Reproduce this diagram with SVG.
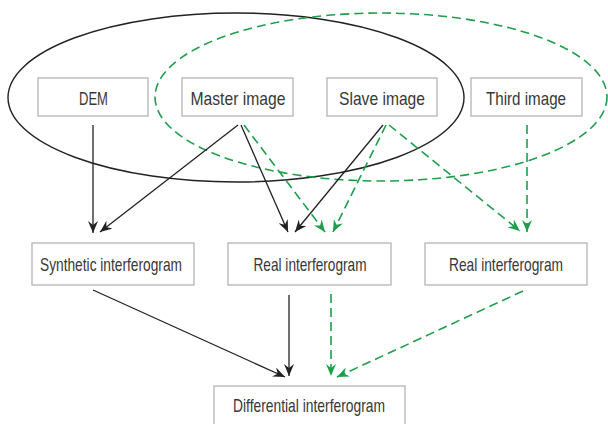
<svg xmlns="http://www.w3.org/2000/svg" width="608" height="424" viewBox="0 0 608 424">
  <style>
    .box { fill: #ffffff; stroke: #b4b4b4; stroke-width: 1.3; }
    .lbl { font-family: "Liberation Sans", Arial, sans-serif; font-size: 19px; fill: #383838; text-anchor: middle; }
    .blk { fill: none; stroke: #222222; stroke-width: 1.3; }
    .grn { fill: none; stroke: #1f9e4c; stroke-width: 1.6; stroke-dasharray: 9 5; }
    .ring-b { fill: none; stroke: #222222; stroke-width: 1.4; }
    .ring-g { fill: none; stroke: #1f9e4c; stroke-width: 1.6; stroke-dasharray: 9 5; }
  </style>
  <defs>
    <marker id="ah-b" viewBox="0 0 12 10" refX="12" refY="5" markerWidth="12" markerHeight="10" markerUnits="userSpaceOnUse" orient="auto">
      <path d="M0,0 L12,5 L0,10 L4,5 Z" fill="#222222"/>
    </marker>
    <marker id="ah-g" viewBox="0 0 12 10" refX="12" refY="5" markerWidth="12" markerHeight="10" markerUnits="userSpaceOnUse" orient="auto">
      <path d="M0,0 L12,5 L0,10 L4,5 Z" fill="#1f9e4c"/>
    </marker>
  </defs>

  <!-- image groupings -->
  <g id="groupings">
    <ellipse class="ring-b" cx="236" cy="97.5" rx="228" ry="84.5"/>
    <ellipse class="ring-g" cx="381" cy="97" rx="226" ry="84"/>
  </g>

  <!-- connectors -->
  <g id="connectors">
    <line class="blk" x1="93" y1="125" x2="93" y2="233" marker-end="url(#ah-b)"/>
    <line class="blk" x1="238" y1="125" x2="100" y2="232" marker-end="url(#ah-b)"/>
    <line class="blk" x1="241" y1="125" x2="288" y2="232" marker-end="url(#ah-b)"/>
    <line class="grn" x1="244" y1="125" x2="325" y2="232" marker-end="url(#ah-g)"/>
    <line class="blk" x1="383" y1="125" x2="295" y2="232" marker-end="url(#ah-b)"/>
    <line class="grn" x1="386" y1="125" x2="333" y2="232" marker-end="url(#ah-g)"/>
    <line class="grn" x1="389" y1="125" x2="520" y2="231" marker-end="url(#ah-g)"/>
    <line class="grn" x1="527" y1="125" x2="527" y2="232" marker-end="url(#ah-g)"/>
    <line class="blk" x1="93" y1="290" x2="285" y2="377" marker-end="url(#ah-b)"/>
    <line class="blk" x1="289" y1="295" x2="289" y2="376" marker-end="url(#ah-b)"/>
    <line class="grn" x1="331" y1="294" x2="331" y2="376" marker-end="url(#ah-g)"/>
    <line class="grn" x1="523" y1="291" x2="337" y2="377" marker-end="url(#ah-g)"/>
  </g>

  <g id="dem">
    <rect class="box" x="38" y="78" width="110" height="38"/>
    <text class="lbl" x="93.5" y="105" textLength="29" lengthAdjust="spacingAndGlyphs">DEM</text>
  </g>
  <g id="master">
    <rect class="box" x="182" y="78" width="111" height="38"/>
    <text class="lbl" x="238" y="105" textLength="95" lengthAdjust="spacingAndGlyphs">Master image</text>
  </g>
  <g id="slave">
    <rect class="box" x="327" y="78" width="110" height="38"/>
    <text class="lbl" x="382" y="105" textLength="86" lengthAdjust="spacingAndGlyphs">Slave image</text>
  </g>
  <g id="third">
    <rect class="box" x="471" y="78" width="111" height="38"/>
    <text class="lbl" x="526" y="105" textLength="80" lengthAdjust="spacingAndGlyphs">Third image</text>
  </g>
  <g id="synthetic">
    <rect class="box" x="32" y="243" width="162" height="42"/>
    <text class="lbl" x="111" y="271" textLength="142" lengthAdjust="spacingAndGlyphs">Synthetic interferogram</text>
  </g>
  <g id="real1">
    <rect class="box" x="228" y="243" width="163" height="42"/>
    <text class="lbl" x="310" y="271" textLength="113" lengthAdjust="spacingAndGlyphs">Real interferogram</text>
  </g>
  <g id="real2">
    <rect class="box" x="425" y="243" width="162" height="42"/>
    <text class="lbl" x="506" y="271" textLength="114" lengthAdjust="spacingAndGlyphs">Real interferogram</text>
  </g>
  <g id="differential">
    <rect class="box" x="214" y="386" width="191" height="42"/>
    <text class="lbl" x="309" y="412" textLength="152" lengthAdjust="spacingAndGlyphs">Differential interferogram</text>
  </g>
</svg>
